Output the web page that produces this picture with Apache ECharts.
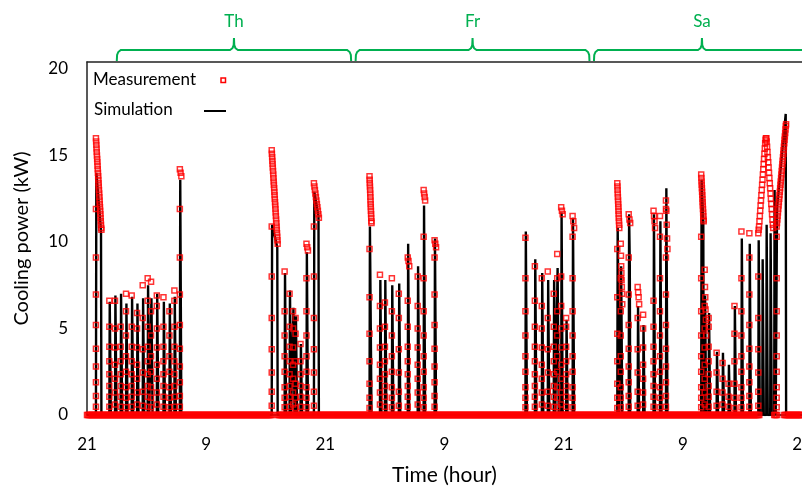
<!DOCTYPE html>
<html><head><meta charset="utf-8">
<script src="https://cdn.jsdelivr.net/npm/echarts@6/dist/echarts.min.js"></script>
<style>html,body{margin:0;padding:0;background:#fff}#c{width:802px;height:488px}</style>
</head><body><div id="c"></div>
<script>
// ---- data (hours since Wed 21:00) ----
const xTickLabels = ['21', '9', '21', '9', '21', '9', '21'];
const yTickValues = [0, 5, 10, 15, 20];
const dayNames = ['Th', 'Fr', 'Sa'];
const bracketStart = [3, 27.05, 51.05];
const bracketEnd = [26.6, 50.6, 72.8];

const cycleOn = [0.9, 2.25, 2.82, 3.39, 3.93, 4.5, 5.04, 5.61, 6.11, 6.45, 7.03, 7.7, 8.3, 8.8, 9.35,
  18.6, 19.9, 20.4, 20.75, 21.0, 21.5, 22.1, 22.85,
  28.45, 29.5, 30.0, 30.7, 31.4, 32.3, 33.3, 33.9, 35.0,
  44.15, 45.1, 45.8, 46.4, 47.0, 47.35, 47.75, 48.25, 48.9,
  53.4, 53.75, 54.55, 55.45, 56.0, 57.05, 57.7, 58.3,
  61.85, 62.2, 62.6, 63.4, 64.0, 64.6, 65.2, 65.9, 66.7, 67.6, 69.45];
const cycleOff = [1.45, 2.4, 2.97, 3.54, 4.08, 4.65, 5.19, 5.76, 6.26, 6.6, 7.18, 7.85, 8.45, 8.95, 9.5,
  19.2, 20.05, 20.55, 20.9, 21.15, 21.65, 22.25, 23.35,
  28.65, 29.65, 30.15, 30.85, 31.55, 32.45, 33.45, 34.05, 35.15,
  44.3, 45.25, 45.95, 46.55, 47.15, 47.5, 47.9, 48.4, 49.05,
  53.6, 53.9, 54.7, 55.6, 56.15, 57.2, 57.85, 58.45,
  62.1, 62.35, 62.75, 63.55, 64.15, 64.75, 65.35, 66.05, 66.85, 69.1, 70.4];
const simPeak = [14.0, 6.55, 6.9, 7.0, 6.45, 6.84, 6.45, 6.74, 7.5, 6.74, 7.0, 6.55, 6.45, 6.84, 13.6,
  11.0, 8.2, 7.2, 6.2, 5.7, 4.1, 9.4, 12.9,
  10.9, 7.8, 7.8, 7.5, 7.6, 9.9, 8.6, 12.1, 10.2,
  10.6, 9.0, 8.2, 7.8, 7.8, 8.5, 11.7, 5.5, 11.4,
  10.8, 8.6, 11.6, 6.3, 5.2, 11.6, 11.2, 13.1,
  13.6, 6.9, 5.9, 3.65, 3.6, 2.9, 6.3, 10.2, 9.9, null, 12.0];
const simEnd = [10.7, 6.55, 6.9, 7.0, 6.45, 6.84, 6.45, 6.74, 7.5, 6.74, 7.0, 6.55, 6.45, 6.84, 13.6,
  9.7, 8.2, 7.2, 6.2, 5.7, 4.1, 9.4, 11.5,
  10.9, 7.8, 7.8, 7.5, 7.6, 9.9, 8.6, 12.1, 10.2,
  10.6, 9.0, 8.2, 7.8, 7.8, 8.5, 11.7, 5.5, 11.4,
  10.8, 8.6, 8.6, 6.3, 5.2, 11.6, 11.2, 13.1,
  11.2, 6.9, 5.9, 3.65, 3.6, 2.9, 6.3, 10.2, 9.9, null, 17.4];
const extraSimOn = [67.6, 68.0, 68.4, 68.8, 69.2];
const extraSimOff = [67.75, 68.15, 68.55, 68.95, 69.35];
const extraSimPeak = [10.1, 9.0, 11.0, 10.5, 13.0];

const rampA = [0.48, 1.06, 1.67, 2.35, 3.1, 3.95, 5.1, 6.6];
const rampB = [0.48, 1.1, 1.89, 2.81, 3.83, 5.2, 6.96, 9.1, 11.9];
const rampC = [0.4, 1.0, 1.8, 3.1, 4.7, 6.8, 9.6];
const rampD = [0.54, 1.35, 2.45, 3.8, 5.6, 8.0, 10.9];
const rampE = [0.45, 1.0, 1.6, 2.5, 3.4, 4.6, 6.0, 7.9, 10.3];
const rampF = [0.6, 1.3, 2.1, 2.9, 3.9, 5.0, 6.3, 8.0];
const ramps = [rampA, rampB, rampC, rampD, rampE, rampF];
const cycleRamp = [1,0,5,0,4,0,5,3,0,4,5,0,4,0,1,
  3,4,0,5,2,0,4,3,
  2,5,0,4,3,0,5,4,1,
  4,0,5,3,0,4,5,0,4,
  2,4,1,3,5,0,4,1,
  4,5,0,3,5,0,2,4,1,3,4];
// measured values at the top of each cycle
const measTop = [
  [16.0,15.8,15.6,15.4,15.2,15.0,14.8,14.6,14.4,14.2,14.0,13.8,13.6,13.4,13.2,13.0,12.8,12.6,12.4,12.2,12.0,11.8,11.6,11.4,11.2,11.0,10.8,10.7],
  [6.6],[6.6],[5.1],[7.0],[6.9],[5.9],[7.5],[7.9],[7.7],[6.9],[6.8],[6.0],[7.2],
  [14.2,14.0,13.8],
  [15.3,15.1,14.9,14.7,14.5,14.3,14.1,13.9,13.7,13.5,13.3,13.1,12.9,12.7,12.5,12.3,12.1,11.9,11.7,11.5,11.3,11.1,10.9,10.7,10.5,10.3,10.1,9.9],
  [8.3],[7.0],[6.0],[5.6],[4.1],[9.9,9.7,9.5],
  [13.4,13.2,13.0,12.8,12.6,12.4,12.2,12.0,11.8,11.6,11.4],
  [13.8,13.6,13.4,13.2,13.0,12.8,12.6,12.4,12.2,12.0,11.8,11.6,11.4,11.2,11.1],
  [8.1],[6.5],[7.9],[7.0],[9.1,8.9,8.6],[8.0],[13.0,12.8,12.6,12.4],[10.1,9.9,9.7],
  [10.25],[8.6],[7.9],[8.3],[7.0],[9.3],[12.0,11.8,11.6],[5.6],[11.5,11.2,10.8],
  [13.4,13.2,13.0,12.8,12.6,12.4,12.2,12.0,11.8,11.6,11.4,11.2,11.0,10.8],
  [9.9,9.2,8.6,8.2,7.8,7.4,7.0,6.4],
  [11.6,11.3,11.1],[7.4,7.1,6.8,6.4],[5.8],[11.8,11.5,11.2,10.8],[11.5],[12.4,11.8,11.0,10.2,9.6],
  [13.9,13.7,13.5,13.3,13.1,12.9,12.7,12.5,12.3,12.1,11.9,11.7,11.5,11.3,11.2],
  [8.4,7.4,6.8,6.1,5.5,4.6],
  [5.6],[3.6],[3.0],[1.8],[6.3],[10.6],[10.5],
  [10.5,10.7,10.9,11.2,11.5,11.8,12.1,12.4,12.7,13.0,13.3,13.6,13.9,14.2,14.5,14.8,15.1,15.4,15.7,15.9,16.0,16.0,15.8,15.5,15.2,14.9,14.6,14.3,14.0,13.7,13.4,13.1,12.8,12.5,12.2,11.9,11.6,11.3,11.0,10.8],
  [10.9,11.1,11.3,11.5,11.7,11.9,12.1,12.3,12.5,12.7,12.9,13.1,13.3,13.5,13.7,13.9,14.1,14.3,14.5,14.7,14.9,15.1,15.3,15.5,15.7,15.9,16.1,16.3,16.5,16.7,16.8]
];
// periods where the logged measurement is not zero for a while
const zeroGaps = [[18.65, 19.15], [67.75, 69.15], [69.5, 70.15]];
const logStepZero = 0.1;
const xMax = 72, yMax = 20.4;

// ---- build series ----
const spikes = [];
cycleOn.forEach((on, i) => { if (simPeak[i] != null) spikes.push([on, cycleOff[i], simPeak[i], simEnd[i]]); });
extraSimOn.forEach((on, i) => spikes.push([on, extraSimOff[i], extraSimPeak[i], extraSimPeak[i]]));
spikes.sort((a, b) => a[0] - b[0]);
const simData = [[0, 0]];
spikes.forEach(([on, off, pk, en]) => { simData.push([on, 0], [on + 0.04, pk], [off - 0.04, en], [off, 0]); });
simData.push([xMax, 0]);

const measData = [];
for (let k = 0; k * logStepZero <= xMax + 1e-9; k++) {
  const t = +(k * logStepZero).toFixed(2);
  if (!zeroGaps.some(([a, b]) => t > a && t < b)) measData.push([t, 0]);
}
cycleOn.forEach((on, i) => {
  const top = measTop[i];
  ramps[cycleRamp[i]].filter(v => v < top[0] - 0.4).forEach(v => measData.push([on, v]));
  const n = top.length;
  top.forEach((v, k) => measData.push([n > 1 ? on + (cycleOff[i] - on) * k / (n - 1) : on, v]));
});

const green = '#00b050';
const FONT = 'Lato';
const chart = echarts.init(document.getElementById('c'), null, { renderer: 'canvas' });
chart.setOption({
  animation: false,
  backgroundColor: '#fff',
  grid: { left: 87, right: 0, top: 62, bottom: 73, containLabel: false, outerBoundsMode: 'none' },
  xAxis: [{
    type: 'value', min: 0, max: xMax, interval: 12, position: 'bottom',
    axisLine: { show: true, lineStyle: { color: '#000', width: 1.5 } },
    axisTick: { show: false }, splitLine: { show: false },
    axisLabel: { margin: 21, color: '#000', fontSize: 17, fontFamily: FONT, hideOverlap: false,
      formatter: v => xTickLabels[Math.round(v / 12)] ?? '' },
    name: 'Time (hour)', nameLocation: 'middle', nameGap: 50,
    nameTextStyle: { color: '#000', fontSize: 21, fontFamily: FONT }
  }, {
    type: 'value', min: 0, max: xMax, position: 'top',
    axisLine: { show: true, lineStyle: { color: '#222', width: 1.5 } },
    axisTick: { show: false }, axisLabel: { show: false }, splitLine: { show: false }
  }],
  yAxis: {
    type: 'value', min: 0, max: yMax, interval: 5,
    axisLine: { show: true, lineStyle: { color: '#222', width: 1.5 } },
    axisTick: { show: false }, splitLine: { show: false },
    axisLabel: { margin: 19, color: '#000', fontSize: 17, fontFamily: FONT, showMaxLabel: false,
      formatter: v => yTickValues.includes(v) ? String(v) : '' },
    name: 'Cooling power (kW)', nameLocation: 'middle', nameGap: 55,
    nameTextStyle: { color: '#000', fontSize: 20, fontFamily: FONT }
  },
  series: [{
    name: 'Simulation', type: 'line', data: simData, showSymbol: false, symbol: 'none',
    lineStyle: { color: '#000', width: 2.4 }, z: 2, silent: true
  }, {
    name: 'Measurement', type: 'scatter', data: measData, symbol: 'rect', symbolSize: 5,
    itemStyle: { color: 'rgba(255,255,255,0)', borderColor: '#ff0000', borderWidth: 1.5 }, z: 3, silent: true
  }, {
    type: 'custom', coordinateSystem: 'cartesian2d', clip: false, silent: true, z: 5,
    data: dayNames.map((d, i) => [bracketStart[i], bracketEnd[i], yMax]),
    renderItem: (params, api) => {
      const i = params.dataIndex;
      const x0 = api.coord([api.value(0), yMax])[0];
      const x1 = api.coord([api.value(1), yMax])[0];
      const top = api.coord([0, yMax])[1];
      const xm = (x0 + x1) / 2, yb = top - 12;
      const pts = [[x0, top - 1], [x0 + 0.3, yb + 5], [x0 + 1.5, yb + 2], [x0 + 4, yb], [xm - 4, yb], [xm - 1.5, yb - 1.8],
        [xm - 0.3, yb - 5], [xm, yb - 12], [xm + 0.3, yb - 5], [xm + 1.5, yb - 1.8], [xm + 4, yb], [x1 - 4, yb],
        [x1 - 1.5, yb + 2], [x1 - 0.3, yb + 5], [x1, top - 1]];
      return { type: 'group', children: [
        { type: 'polyline', shape: { points: pts }, style: { stroke: green, lineWidth: 2, fill: null } },
        { type: 'text', style: { text: dayNames[i], x: xm, y: top - 40, fill: green, fontSize: 17, fontFamily: FONT, align: 'center', verticalAlign: 'middle' } }
      ] };
    }
  }],
  graphic: [
    { type: 'text', left: 93, top: 71, style: { text: 'Measurement', fill: '#000', fontSize: 17, fontFamily: FONT } },
    { type: 'rect', shape: { x: 221, y: 78, width: 4.5, height: 4.5 }, style: { fill: null, stroke: '#ff0000', lineWidth: 1.5 } },
    { type: 'text', left: 94, top: 101, style: { text: 'Simulation', fill: '#000', fontSize: 17, fontFamily: FONT } },
    { type: 'line', shape: { x1: 204, y1: 111, x2: 226, y2: 111 }, style: { stroke: '#000', lineWidth: 2 } }
  ]
});
</script></body></html>
